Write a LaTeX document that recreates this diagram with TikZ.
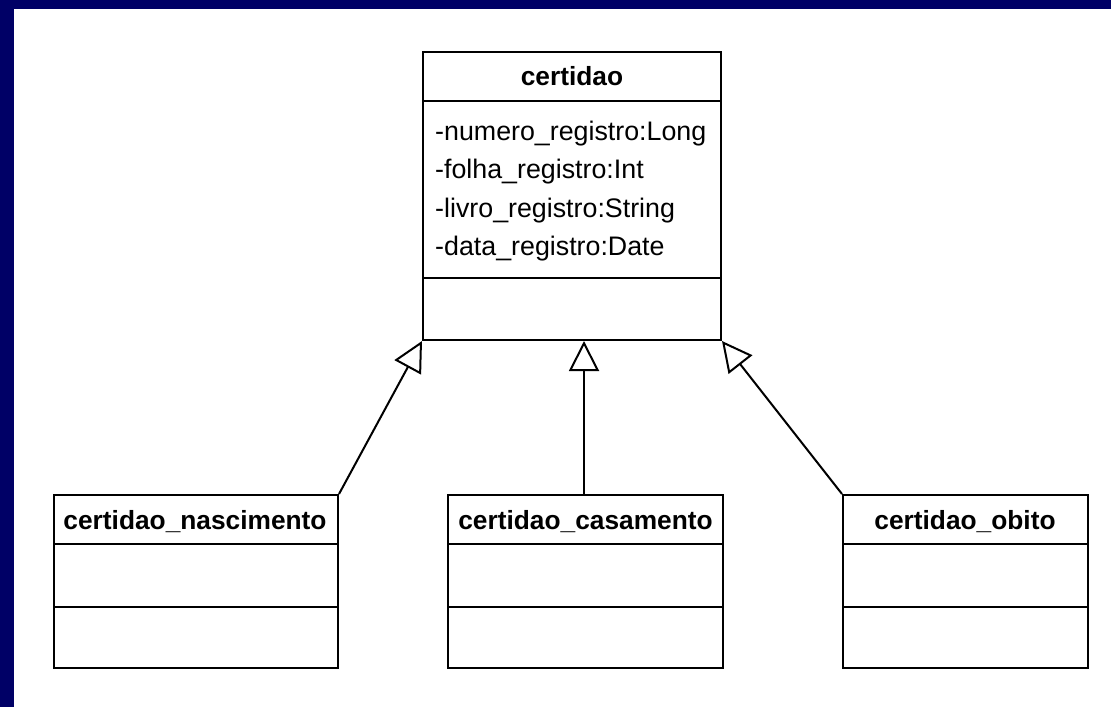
\documentclass[tikz,border=0pt]{standalone}
\usepackage{fontspec}
\setmainfont{Liberation Sans}
\usetikzlibrary{arrows.meta}
\definecolor{navy}{RGB}{0,0,102}
\tikzset{
  classbox/.style={draw=black, line width=2pt, rectangle, inner sep=0pt},
  sepline/.style={draw=black, line width=2pt},
  title/.style={font=\fontsize{26.3}{30}\selectfont\bfseries, inner sep=0pt, anchor=base},
  attr/.style={font=\fontsize{26.8}{30}\selectfont, inner sep=0pt, anchor=base west},
  inherit/.style={draw=black, line width=2pt, -{Triangle[open, length=30pt, width=30pt, fill=white]}},
}
\begin{document}
\begin{tikzpicture}[x=1pt, y=-1pt]
  \useasboundingbox (0,0) rectangle (1111,707);
  \fill[white] (0,0) rectangle (1111,707);
  \fill[navy] (0,0) rectangle (1111,9);
  \fill[navy] (0,0) rectangle (14,707);

  % certidao
  \node[classbox, minimum width=298pt, minimum height=288pt] (cert) at (572,196) {};
  \draw[sepline] (423,101) -- (721,101);
  \draw[sepline] (423,278) -- (721,278);
  \node[title] (certT) at (572,85) {certidao};
  \node[attr] (a1) at (435,140) {-numero\_registro:Long};
  \node[attr] (a2) at (435,178) {-folha\_registro:Int};
  \node[attr] (a3) at (435,217) {-livro\_registro:String};
  \node[attr] (a4) at (435,255) {-data\_registro:Date};

  % certidao_nascimento
  \node[classbox, minimum width=284pt, minimum height=173pt] (nasc) at (196,581.5) {};
  \draw[sepline] (54,544) -- (338,544);
  \draw[sepline] (54,607) -- (338,607);
  \node[title] (nascT) at (195,529) {certidao\_nascimento};

  % certidao_casamento
  \node[classbox, minimum width=275pt, minimum height=173pt] (casa) at (585.5,581.5) {};
  \draw[sepline] (448,544) -- (723,544);
  \draw[sepline] (448,607) -- (723,607);
  \node[title] (casaT) at (585.5,529) {certidao\_casamento};

  % certidao_obito
  \node[classbox, minimum width=245pt, minimum height=173pt] (obit) at (965.5,581.5) {};
  \draw[sepline] (843,544) -- (1088,544);
  \draw[sepline] (843,607) -- (1088,607);
  \node[title] (obitT) at (965,529) {certidao\_obito};

  % inheritance
  \coordinate (casaTop) at (584,495);
  \draw[inherit] (nasc.north east) -- (cert.south west);
  \draw[inherit] (casaTop) -- (casaTop |- cert.south);
  \draw[inherit] (obit.north west) -- (cert.south east);
\end{tikzpicture}
\end{document}
